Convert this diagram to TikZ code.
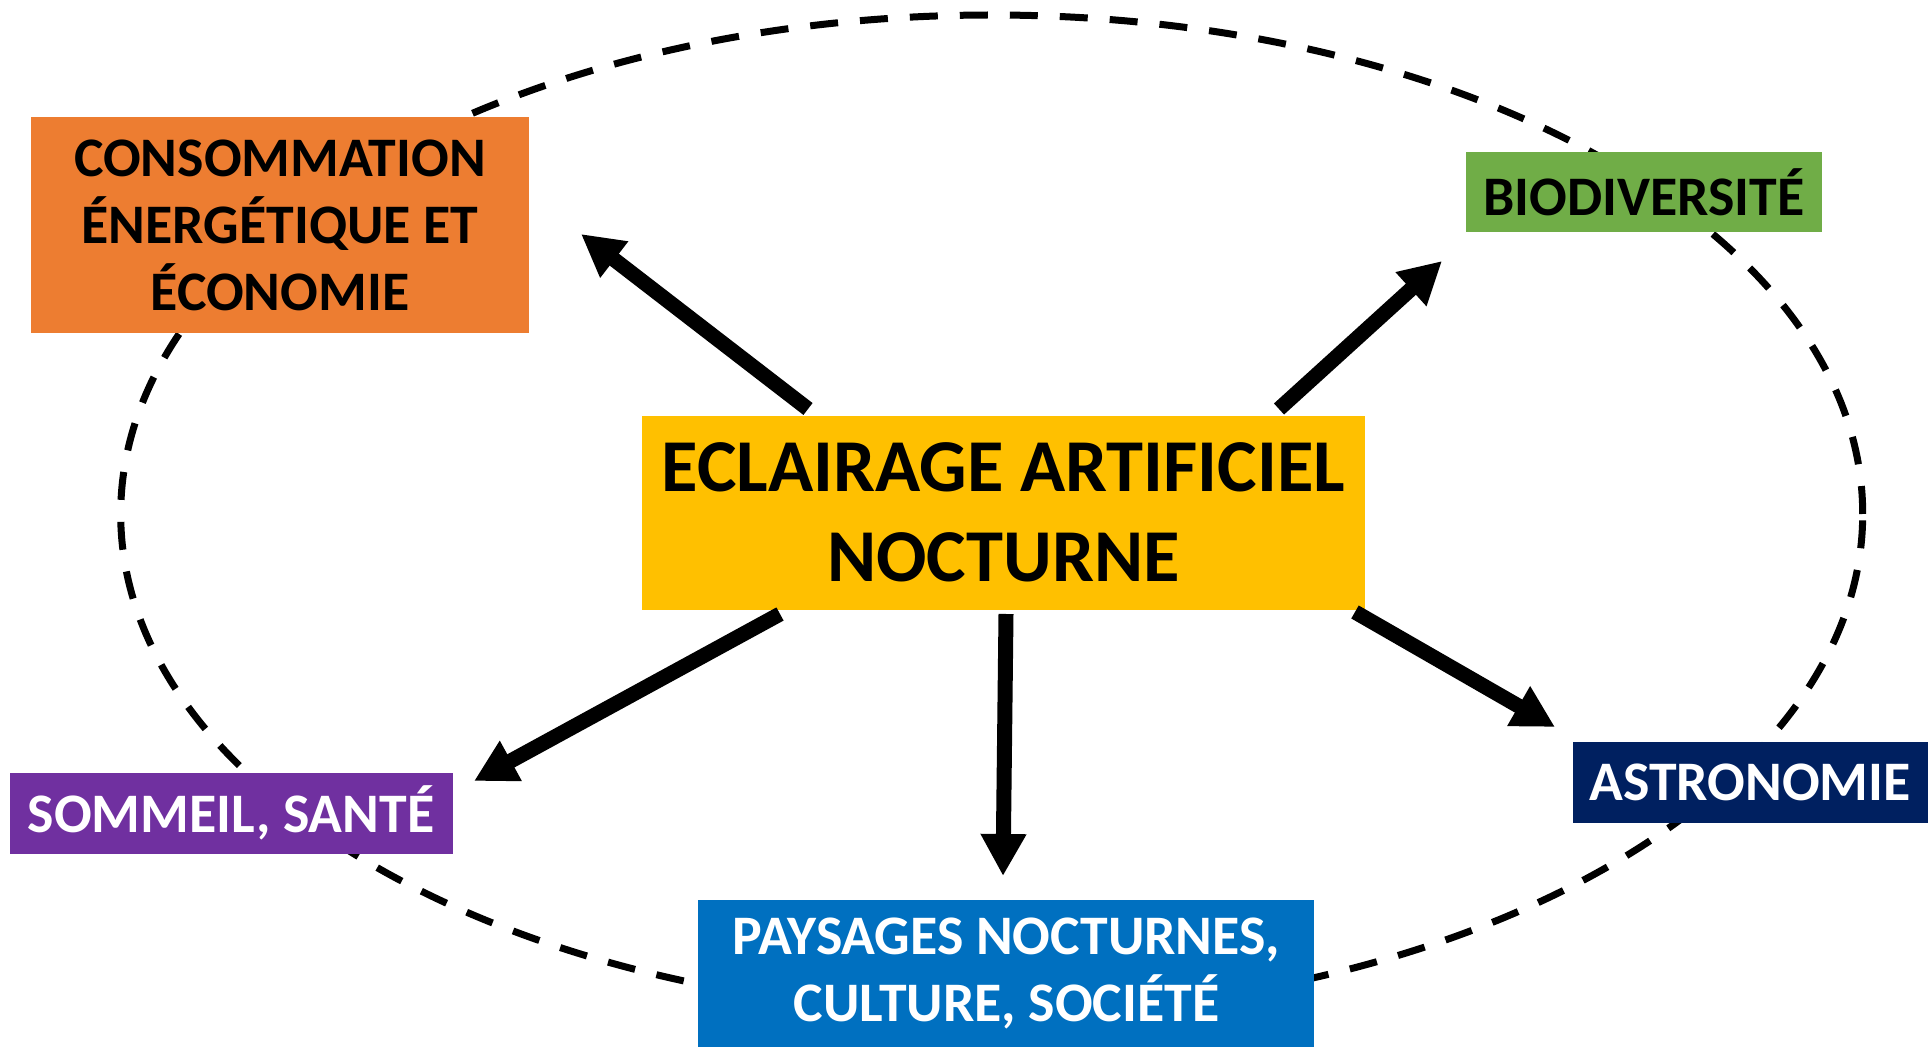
\documentclass[tikz,border=0pt]{standalone}
\usepackage{fontspec}
\setmainfont{Carlito}
\usetikzlibrary{arrows.meta}
\definecolor{corange}{HTML}{ED7D31}
\definecolor{cgreen}{HTML}{70AD47}
\definecolor{cyellow}{HTML}{FFC000}
\definecolor{cpurple}{HTML}{7030A0}
\definecolor{cnavy}{HTML}{002060}
\definecolor{cblue}{HTML}{0070C0}
\begin{document}
\begin{tikzpicture}[x=0.5pt,y=-0.5pt,
  box/.style={rectangle, inner sep=0pt, align=center,
    font=\fontsize{27.9}{33.5}\selectfont\bfseries},
  bigbox/.style={rectangle, inner sep=0pt, align=center,
    font=\fontsize{37.3}{45}\selectfont\bfseries},
  conn/.style={line width=7.5pt, -{Triangle[length=21pt,width=21.5pt]}},
  orbit/.style={line width=3.5pt, dash pattern=on 14pt off 11pt}]
\useasboundingbox (0,0) rectangle (1928,1047);
% dashed orbit
\draw[orbit] (991.7,514) ellipse [x radius=435.5pt, y radius=249.5pt];
% boxes
\node[box, fill=corange, text=black, minimum width=249pt, minimum height=108pt] (energie) at (280,225)
  {CONSOMMATION\\ÉNERGÉTIQUE ET\\ÉCONOMIE};
\node[box, fill=cgreen, text=black, minimum width=178pt, minimum height=40pt] (bio) at (1644,192.5)
  {BIODIVERSITÉ};
\node[bigbox, fill=cyellow, text=black, minimum width=361.5pt, minimum height=97pt] (centre) at (1003.4,512.8)
  {ECLAIRAGE ARTIFICIEL\\NOCTURNE};
\node[box, fill=cpurple, text=white, minimum width=221.5pt, minimum height=40.5pt] (sante) at (231,813)
  {SOMMEIL, SANTÉ};
\node[box, fill=cnavy, text=white, minimum width=177.5pt, minimum height=40.5pt] (astro) at (1750,782)
  {ASTRONOMIE};
\node[box, fill=cblue, text=white, minimum width=308pt, minimum height=73.5pt] (paysage) at (1006.4,973.5)
  {PAYSAGES NOCTURNES,\\CULTURE, SOCIÉTÉ};
% arrow ends
\coordinate (s1) at (808,409);  \coordinate (t1) at (581,234);
\coordinate (s2) at (1279,409); \coordinate (t2) at (1442,261);
\coordinate (s3) at (780,614);  \coordinate (t3) at (474,781);
\coordinate (s4) at (1006,614); \coordinate (t4) at (1003,876);
\coordinate (s5) at (1355,612); \coordinate (t5) at (1555,727);
\draw[conn] (s1) -- (t1);
\draw[conn] (s2) -- (t2);
\draw[conn] (s3) -- (t3);
\draw[conn] (s4) -- (t4);
\draw[conn] (s5) -- (t5);
\end{tikzpicture}
\end{document}
